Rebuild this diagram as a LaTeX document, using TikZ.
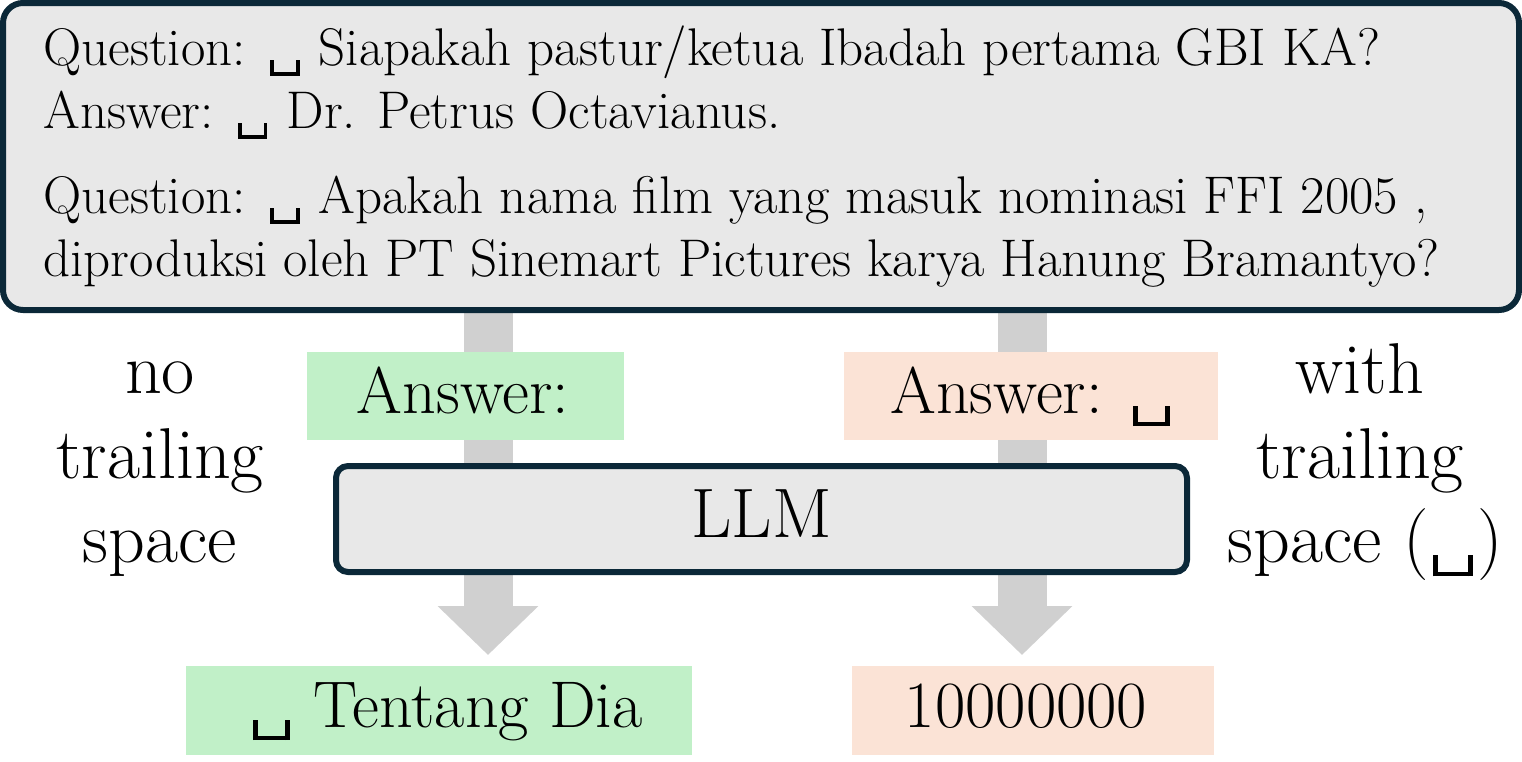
\documentclass[tikz,border=0pt]{standalone}
\usetikzlibrary{arrows.meta}
\definecolor{navy}{HTML}{0B2838}
\definecolor{boxgray}{HTML}{E8E8E8}
\definecolor{arrowgray}{HTML}{D0D0D0}
\definecolor{lgreen}{HTML}{C1F0C8}
\definecolor{lorange}{HTML}{FBE3D6}
\newcommand{\vsp}{\leavevmode\hbox{\kern0.06em\vrule width 0.065em height 0.1em depth 0.2em\vrule width 0.42em height -0.135em depth 0.2em\vrule width 0.065em height 0.1em depth 0.2em\kern0.06em}}
\begin{document}
\begin{tikzpicture}[x=0.5pt,y=-0.5pt,
  roundbox/.style={draw=navy, fill=boxgray, line width=3pt, inner sep=0pt},
  qtext/.style={inner sep=0pt, anchor=base west, font=\fontsize{26.5}{30}\selectfont},
  bigtext/.style={inner sep=0pt, font=\fontsize{33}{40}\selectfont},
  sidetext/.style={inner sep=0pt, anchor=base, font=\fontsize{36}{42}\selectfont},
  greenbox/.style={fill=lgreen, inner sep=0pt},
  orangebox/.style={fill=lorange, inner sep=0pt},
  bigarrow/.style={draw=arrowgray, line width=24.5pt, -{Triangle[width=49pt,length=24.5pt,fill=arrowgray]}}
]
\useasboundingbox (0,0) rectangle (1522,761);

% arrows (behind everything)
\coordinate (aL1) at (488,300);
\coordinate (aL2) at (488,655);
\coordinate (aR1) at (1022,300);
\coordinate (aR2) at (1022,655);
\draw[bigarrow] (aL1) -- (aL2);
\draw[bigarrow] (aR1) -- (aR2);

% top question box
\node[roundbox, rounded corners=10pt, minimum width=758pt, minimum height=153.5pt] (top) at (761,156.5) {};
\node[qtext] (l1) at (43,65) {Question: \vsp{} Siapakah pastur/ketua Ibadah pertama GBI KA?};
\node[qtext] (l2) at (43,128) {Answer: \vsp{} Dr. Petrus Octavianus.};
\node[qtext] (l3) at (43,213) {Question: \vsp{} Apakah nama film yang masuk nominasi FFI 2005 ,};
\node[qtext] (l4) at (43,276) {diproduksi oleh PT Sinemart Pictures karya Hanung Bramantyo?};

% prompts
\node[greenbox, minimum width=158.5pt, minimum height=44pt] (ansL) at (465.5,396) {};
\node[bigtext, anchor=base] (tansL) at (463,413) {Answer:};
\node[orangebox, minimum width=187pt, minimum height=44pt] (ansR) at (1031,396) {};
\node[bigtext, anchor=base] (tansR) at (1032,413) {Answer: \vsp};

% LLM
\node[roundbox, rounded corners=6pt, minimum width=425.5pt, minimum height=53pt] (llm) at (761.5,519) {};
\node[inner sep=0pt, anchor=base, font=\fontsize{35}{42}\selectfont] (tllm) at (761.5,537) {LLM};

% outputs
\node[greenbox, minimum width=253pt, minimum height=44.5pt] (outL) at (439,710.5) {};
\node[bigtext, anchor=base] (toutL) at (446,727) {\vsp{} Tentang Dia};
\node[orangebox, minimum width=181pt, minimum height=44.5pt] (outR) at (1033,710.5) {};
\node[bigtext, anchor=base] (toutR) at (1026,727) {10000000};

% side labels
\node[sidetext] (n1) at (160,393) {no};
\node[sidetext] (n2) at (160,478) {trailing};
\node[sidetext] (n3) at (160,562) {space};
\node[sidetext] (w1) at (1360,393) {with};
\node[sidetext] (w2) at (1360,478) {trailing};
\node[sidetext] (w3) at (1365,562) {space (\vsp)};
\end{tikzpicture}
\end{document}
